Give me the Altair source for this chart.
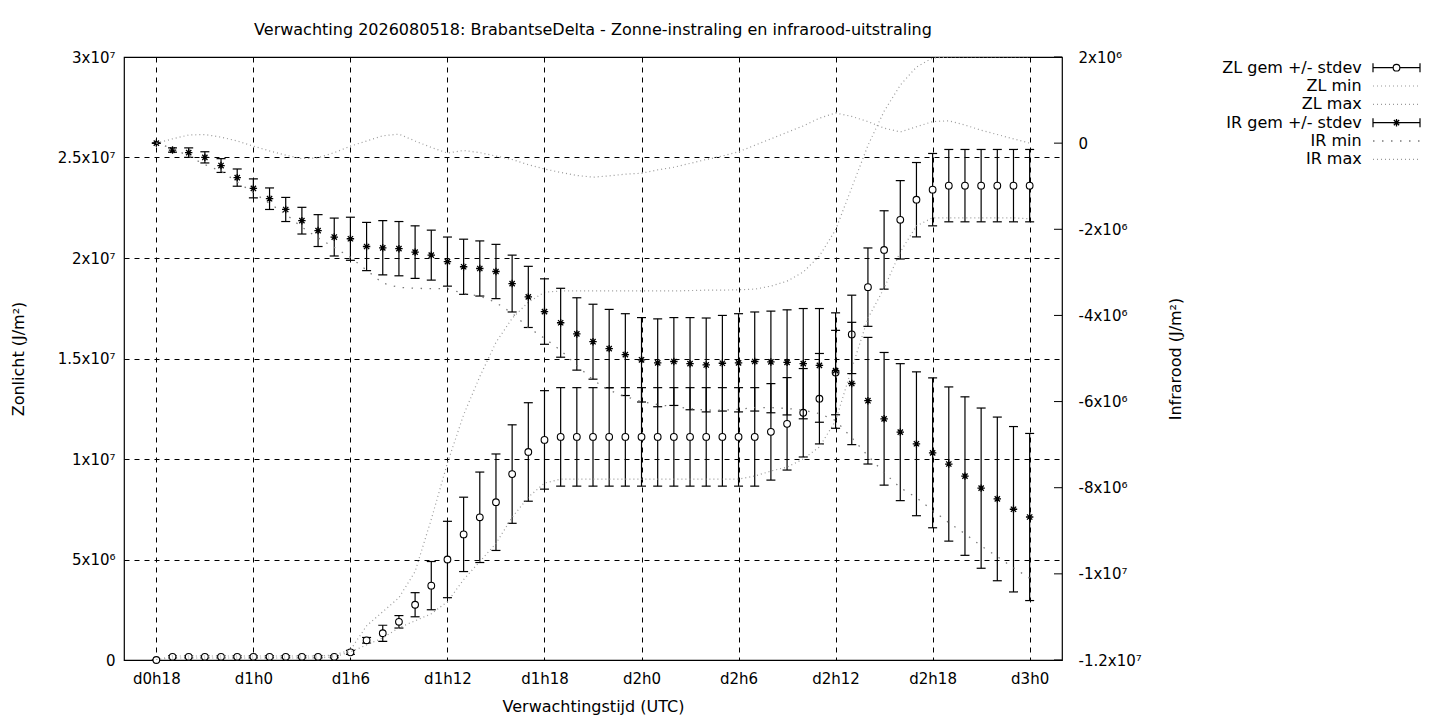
import altair as alt
import pandas as pd

FONT = "DejaVu Sans"

# ---------------- data (values in units of 1e6 J/m2) ----------------
hours = list(range(55))  # hours after d0h18

zl_mean = [0] + [0.16] * 11 + [0.38, 0.98, 1.33, 1.9, 2.75, 3.7, 5.0, 6.25, 7.1, 7.85, 9.25, 10.35, 10.95] \
    + [11.1] * 13 + [11.35, 11.75, 12.3, 13.0, 14.3, 16.2, 18.55, 20.4, 21.9, 22.9, 23.4] + [23.6] * 6
zl_sd = [0] + [0.05] * 11 + [0.1, 0.14, 0.4, 0.31, 0.6, 1.2, 1.9, 1.85, 2.25, 2.4] + [2.45] * 16 \
    + [2.4, 2.3, 2.2, 2.25, 2.1, 1.95, 1.95, 1.95, 1.95, 1.85, 1.8] + [1.8] * 6
zl_min = [0] + [0.1] * 10 + [0.16, 0.4, 0.75, 1.1, 1.6, 1.95, 2.3, 2.9, 4.0, 4.9, 5.8, 7.1, 8.1, 8.8] \
    + [9.0] * 12 + [9.15, 9.4, 9.6, 10.0, 10.6, 11.9, 14.5, 17.0, 18.5, 20.3, 21.6, 22.0] + [22.0] * 5 + [21.95]
zl_max = [0] + [0.2] * 10 + [0.25, 0.5, 1.7, 2.4, 3.1, 4.4, 7.0, 9.8, 12.2, 14.1, 15.8, 17.0, 17.8, 18.3] \
    + [18.36] * 8 + [18.38, 18.4, 18.4, 18.42, 18.45] \
    + [18.6, 18.85, 19.3, 20.1, 21.4, 23.5, 25.6, 27.3, 28.6, 29.5, 29.95] + [30.0] * 6

ir_mean = [0, -0.16, -0.22, -0.33, -0.52, -0.80, -1.05, -1.29, -1.54, -1.80,
           -2.03, -2.18, -2.22, -2.40, -2.43, -2.45, -2.53, -2.60, -2.75, -2.87,
           -2.91, -2.98, -3.26, -3.57, -3.91, -4.17, -4.43, -4.61, -4.77, -4.91,
           -5.03, -5.10, -5.07, -5.12, -5.15, -5.11, -5.10, -5.07, -5.08, -5.09,
           -5.12, -5.16, -5.28, -5.58, -5.98, -6.40, -6.71, -6.98, -7.19, -7.45,
           -7.73, -8.01, -8.26, -8.50, -8.68]
ir_sd = [0, 0.05, 0.11, 0.13, 0.16, 0.20, 0.22, 0.25, 0.28, 0.31,
         0.37, 0.44, 0.50, 0.56, 0.63, 0.63, 0.61, 0.58, 0.57, 0.64,
         0.64, 0.63, 0.66, 0.71, 0.76, 0.80, 0.84, 0.87, 0.91, 0.95,
         0.98, 1.02, 1.02, 1.07, 1.09, 1.11, 1.14, 1.15, 1.18, 1.22,
         1.28, 1.32, 1.34, 1.42, 1.47, 1.54, 1.59, 1.67, 1.74, 1.79,
         1.84, 1.86, 1.90, 1.92, 1.94]
ir_min = [0, -0.12, -0.3, -0.5, -0.65, -0.9, -1.15, -1.4, -1.65, -1.95,
          -2.2, -2.42, -2.65, -2.95, -3.25, -3.35, -3.37, -3.38, -3.38, -3.49,
          -3.55, -3.7, -3.95, -4.28, -4.53, -4.81, -5.16, -5.5, -5.74, -5.88,
          -6.0, -6.07, -6.12, -6.16, -6.2, -6.2, -6.18, -6.14, -6.14, -6.16,
          -6.2, -6.28, -6.44, -6.84, -7.26, -7.65, -8.0, -8.23, -8.53, -8.81,
          -9.07, -9.35, -9.6, -9.86, -10.1]
ir_max = [0, 0.1, 0.19, 0.2, 0.14, 0.05, -0.07, -0.18, -0.28, -0.36,
          -0.34, -0.22, -0.07, 0.05, 0.17, 0.21, 0.05, -0.1, -0.23, -0.17,
          -0.22, -0.3, -0.38, -0.5, -0.6, -0.68, -0.75, -0.79, -0.76, -0.72,
          -0.7, -0.62, -0.56, -0.47, -0.38, -0.3, -0.2, -0.05, 0.1, 0.25,
          0.4, 0.58, 0.7, 0.62, 0.5, 0.35, 0.26, 0.38, 0.5, 0.52,
          0.42, 0.3, 0.2, 0.1, 0.0]

x_tick_values = [0, 6, 12, 18, 24, 30, 36, 42, 48, 54]
x_tick_labels = ["d0h18", "d1h0", "d1h6", "d1h12", "d1h18", "d2h0", "d2h6", "d2h12", "d2h18", "d3h0"]
zl_tick_values = [0, 5000000, 10000000, 15000000, 20000000, 25000000, 30000000]
zl_tick_labels = ["0", "5x10⁶", "1x10⁷", "1.5x10⁷", "2x10⁷", "2.5x10⁷", "3x10⁷"]
ir_tick_values = [2000000, 0, -2000000, -4000000, -6000000, -8000000, -10000000, -12000000]
ir_tick_labels = ["2x10⁶", "0", "-2x10⁶", "-4x10⁶", "-6x10⁶", "-8x10⁶", "-1x10⁷", "-1.2x10⁷"]

legend_labels = ["ZL gem +/- stdev", "ZL min", "ZL max", "IR gem +/- stdev", "IR min", "IR max"]
title_text = "Verwachting 2026080518: BrabantseDelta - Zonne-instraling en infrarood-uitstraling"

# ---------------- table ----------------
E6 = 1e6
df = pd.DataFrame({
    "h": hours,
    "zl_mean": [v * E6 for v in zl_mean],
    "zl_sd": [v * E6 for v in zl_sd],
    "zl_min": [v * E6 for v in zl_min],
    "zl_max": [v * E6 for v in zl_max],
    "ir_mean": [v * E6 for v in ir_mean],
    "ir_sd": [v * E6 for v in ir_sd],
    "ir_min": [v * E6 for v in ir_min],
    "ir_max": [v * E6 for v in ir_max],
})
df["zl_lo"] = df["zl_mean"] - df["zl_sd"]
df["zl_hi"] = df["zl_mean"] + df["zl_sd"]
df["ir_lo"] = df["ir_mean"] - df["ir_sd"]
df["ir_hi"] = df["ir_mean"] + df["ir_sd"]


def label_expr(values, labels):
    vals = ",".join(str(v) for v in values)
    labs = ",".join("'" + s + "'" for s in labels)
    return f"[{labs}][indexof([{vals}], datum.value)]"


W, H = 938, 603
GRID_DASH = [5, 5]
TITLE_FS = 16

x_axis = alt.Axis(values=x_tick_values, labelExpr=label_expr(x_tick_values, x_tick_labels),
                  title="Verwachtingstijd (UTC)", grid=True, gridColor="black", gridDash=GRID_DASH,
                  gridWidth=1, gridOpacity=1, ticks=False, domain=False, labelPadding=11,
                  titleY=46, titleBaseline="middle", labelFlush=False, labelOverlap=False)
x_scale = alt.Scale(domain=[-2, 56], nice=False, zero=False)


def X():
    return alt.X("h:Q", scale=x_scale, axis=x_axis)


zl_scale = alt.Scale(domain=[0, 30000000], nice=False, zero=False)
zl_axis = alt.Axis(values=zl_tick_values, labelExpr=label_expr(zl_tick_values, zl_tick_labels),
                   orient="left", grid=True, gridColor="black", gridDash=GRID_DASH, gridWidth=1,
                   gridOpacity=1, ticks=False, domain=False, labelPadding=9,
                   title="Zonlicht (J/m²)", titleAngle=-90, titleX=-106, titleY=H / 2,
                   titleBaseline="middle", titleAlign="center", labelFlush=False, labelOverlap=False)
ir_scale = alt.Scale(domain=[-12000000, 2000000], nice=False, zero=False)
ir_axis = alt.Axis(values=ir_tick_values, labelExpr=label_expr(ir_tick_values, ir_tick_labels),
                   orient="right", grid=False, ticks=False, domain=False, labelPadding=16,
                   title="Infrarood (J/m²)", titleAngle=-90, titleX=113, titleY=H / 2,
                   titleBaseline="middle", titleAlign="center", labelFlush=False, labelOverlap=False)


def YZ(field):
    return alt.Y(field, type="quantitative", scale=zl_scale, axis=zl_axis)


def YI(field):
    return alt.Y(field, type="quantitative", scale=ir_scale, axis=ir_axis)


base = alt.Chart(df)
DOT = "#9a9a9a"
ASTERISK = "M-1,0L1,0M0,-1L0,1M-0.71,-0.71L0.71,0.71M-0.71,0.71L0.71,-0.71"
AST_SIZE = 55

zl_group = alt.layer(
    base.mark_rule(color="black", strokeWidth=1.2).encode(x=X(), y=YZ("zl_lo"), y2="zl_hi:Q"),
    base.mark_tick(orient="horizontal", size=9, thickness=1.2, color="black", opacity=1).encode(x=X(), y=YZ("zl_lo")),
    base.mark_tick(orient="horizontal", size=9, thickness=1.2, color="black", opacity=1).encode(x=X(), y=YZ("zl_hi")),
    base.mark_point(shape="circle", filled=True, fill="white", stroke="black", strokeWidth=1.1,
                    size=45, opacity=1).encode(x=X(), y=YZ("zl_mean")),
    base.mark_line(color=DOT, strokeDash=[1, 3], strokeWidth=1.2, clip=True).encode(x=X(), y=YZ("zl_min")),
    base.mark_line(color=DOT, strokeDash=[1, 3], strokeWidth=1.2, clip=True).encode(x=X(), y=YZ("zl_max")),
)

ir_ticks_df = pd.DataFrame({"v": ir_tick_values})
ir_group = alt.layer(
    base.mark_rule(color="black", strokeWidth=1.2).encode(x=X(), y=YI("ir_lo"), y2="ir_hi:Q"),
    base.mark_tick(orient="horizontal", size=9, thickness=1.2, color="black", opacity=1).encode(x=X(), y=YI("ir_lo")),
    base.mark_tick(orient="horizontal", size=9, thickness=1.2, color="black", opacity=1).encode(x=X(), y=YI("ir_hi")),
    base.mark_point(shape=ASTERISK, filled=False, stroke="black", strokeWidth=1.3,
                    size=AST_SIZE, opacity=1).encode(x=X(), y=YI("ir_mean")),
    base.mark_line(color="#7a7a7a", strokeDash=[1.5, 7.5], strokeWidth=1.3, clip=True).encode(x=X(), y=YI("ir_min")),
    base.mark_line(color=DOT, strokeDash=[1, 3], strokeWidth=1.2, clip=True).encode(x=X(), y=YI("ir_max")),
    alt.Chart(ir_ticks_df).mark_rule(color="black", strokeWidth=1).encode(
        y=YI("v"), x=alt.value(W - 8), x2=alt.value(W)),
)

# ---------------- legend (gnuplot-like key) ----------------
one = pd.DataFrame({"k": [0]})
leg_y = [10.7, 29.0, 47.3, 65.7, 84.0, 102.3]
TX, SX1, SX2 = 1237.7, 1249, 1296
SXM = (SX1 + SX2) / 2
legend_layers = []
for i, lab in enumerate(legend_labels):
    yy = leg_y[i]
    legend_layers.append(alt.Chart(one).mark_text(align="right", baseline="middle", fontSize=TITLE_FS, font=FONT,
                                                  color="black").encode(
        x=alt.value(TX), y=alt.value(yy), text=alt.value(lab)))
    if i in (0, 3):
        legend_layers.append(alt.Chart(one).mark_rule(color="black", strokeWidth=1.2).encode(
            x=alt.value(SX1), x2=alt.value(SX2), y=alt.value(yy)))
        for sx in (SX1, SX2):
            legend_layers.append(alt.Chart(one).mark_rule(color="black", strokeWidth=1.2).encode(
                x=alt.value(sx), y=alt.value(yy - 4.5), y2=alt.value(yy + 4.5)))
        if i == 0:
            legend_layers.append(alt.Chart(one).mark_point(shape="circle", filled=True, fill="white",
                                                           stroke="black", strokeWidth=1.1, size=45,
                                                           opacity=1).encode(
                x=alt.value(SXM), y=alt.value(yy)))
        else:
            legend_layers.append(alt.Chart(one).mark_point(shape=ASTERISK, filled=False, stroke="black",
                                                           strokeWidth=1.3, size=AST_SIZE, opacity=1).encode(
                x=alt.value(SXM), y=alt.value(yy)))
    elif i == 4:
        legend_layers.append(alt.Chart(one).mark_rule(color="#7a7a7a", strokeDash=[1.5, 7.5],
                                                      strokeWidth=1.3).encode(
            x=alt.value(SX1), x2=alt.value(SX2), y=alt.value(yy)))
    else:
        legend_layers.append(alt.Chart(one).mark_rule(color=DOT, strokeDash=[1, 3], strokeWidth=1.2).encode(
            x=alt.value(SX1), x2=alt.value(SX2), y=alt.value(yy)))

title_layer = alt.Chart(one).mark_text(align="center", baseline="middle", fontSize=TITLE_FS, font=FONT,
                                       color="black").encode(
    x=alt.value(W / 2), y=alt.value(-27.5), text=alt.value(title_text))

chart = alt.layer(zl_group, ir_group, *legend_layers, title_layer).resolve_scale(
    y="independent"
).properties(
    width=W, height=H,
    autosize=alt.AutoSizeParams(type="none"),
    padding={"left": 116, "top": 49, "right": 370, "bottom": 56},
    background="white",
).configure_view(
    stroke="black", strokeWidth=1.2
).configure_axis(
    labelFont=FONT, titleFont=FONT, labelFontSize=15, titleFontSize=TITLE_FS,
    labelColor="black", titleColor="black", titleFontWeight="normal"
)

chart.save("out.html", embed_options={"renderer": "svg", "actions": False})
